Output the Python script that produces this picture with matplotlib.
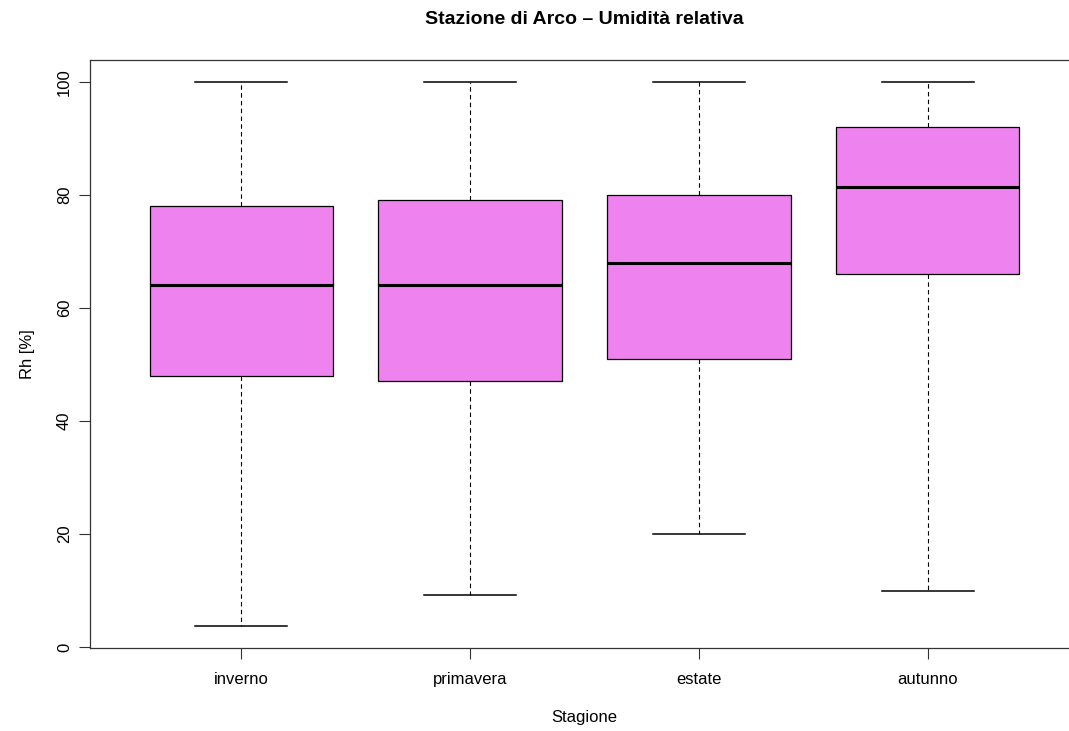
import matplotlib
matplotlib.use("Agg")
import matplotlib.pyplot as plt

plt.rcParams['font.family'] = ['Liberation Sans', 'DejaVu Sans']

categories = ["inverno", "primavera", "estate", "autunno"]
whisker_low = [3.7, 9.2, 20.0, 10.0]
q1 = [48.0, 47.0, 51.0, 66.0]
median = [64.0, 64.0, 68.0, 81.3]
q3 = [78.0, 79.0, 80.0, 92.0]
whisker_high = [100.0, 100.0, 100.0, 100.0]
yticks = [0, 20, 40, 60, 80, 100]

W, H = 1069, 731
fig = plt.figure(figsize=(W / 100, H / 100), dpi=100)
ax = fig.add_axes([90 / W, (H - 648) / H, (1079 - 90) / W, (648 - 60) / H])

stats = []
for i, c in enumerate(categories):
    stats.append(dict(label=c, whislo=whisker_low[i], q1=q1[i], med=median[i],
                      q3=q3[i], whishi=whisker_high[i], fliers=[]))

ax.bxp(stats, positions=range(1, len(categories) + 1), widths=0.8,
       patch_artist=True, showfliers=False,
       boxprops=dict(facecolor="#EE82EE", edgecolor="black", linewidth=0.9),
       medianprops=dict(color="black", linewidth=2.2, solid_capstyle="butt"),
       whiskerprops=dict(color="black", linewidth=0.8, linestyle=(0, (4, 3))),
       capprops=dict(color="black", linewidth=1.1),
       capwidths=0.4)

ax.set_xlim(0.34, 4.66)
ax.set_ylim(-0.15, 103.85)
ax.set_yticks(yticks)
ax.set_yticklabels([str(t) for t in yticks], rotation=90, va="center", fontsize=12)
ax.set_xticks(range(1, len(categories) + 1))
ax.set_xticklabels(categories, fontsize=12)
ax.tick_params(axis="both", length=8, width=0.8, color="#333333")
ax.tick_params(axis="x", pad=9)
ax.tick_params(axis="y", pad=5)
for s in ax.spines.values():
    s.set_linewidth(0.9)
    s.set_color("#333333")

ax.set_xlabel("Stagione", fontsize=12, labelpad=17)
ax.set_ylabel("Rh [%]", fontsize=12, labelpad=16)
fig.text((90 + 1079) / 2 / W, 1 - 19 / H, "Stazione di Arco \u2013 Umidità relativa",
         ha="center", va="center", fontsize=14, fontweight="bold")

fig.savefig("out.png", dpi=100)
